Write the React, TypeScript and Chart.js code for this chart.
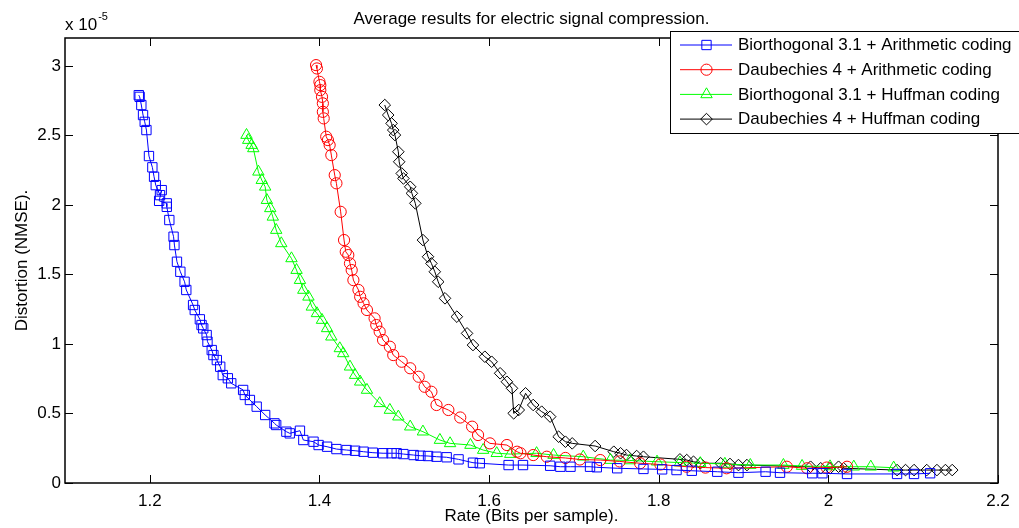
import React, { useEffect, useRef } from 'react';
import { Chart, registerables } from 'chart.js';

Chart.register(...registerables);

const FONT = '"Liberation Sans", Arial, Helvetica, sans-serif';

const chartTitle = 'Average results for electric signal compression.';
const xAxisLabel = 'Rate (Bits per sample).';
const yAxisLabel = 'Distortion (NMSE).';
const yMultiplierBase = 'x 10';
const yMultiplierExp = '-5';

const xMin = 1.1;
const xMax = 2.2;
const yMin = 0;
const yMax = 3.2;
const xTickValues = [1.2, 1.4, 1.6, 1.8, 2.0, 2.2];
const xTickLabels = ['1.2', '1.4', '1.6', '1.8', '2', '2.2'];
const yTickValues = [0, 0.5, 1, 1.5, 2, 2.5, 3];
const yTickLabels = ['0', '0.5', '1', '1.5', '2', '2.5', '3'];

const seriesLabels = [
  'Biorthogonal 3.1 + Arithmetic coding',
  'Daubechies 4 + Arithmetic coding',
  'Biorthogonal 3.1 + Huffman coding',
  'Daubechies 4 + Huffman coding',
];

// Distortion values are in units of 1e-5
const bioArithRate = [1.187, 1.188, 1.190, 1.192, 1.194, 1.196, 1.199, 1.203, 1.205, 1.207,
  1.212, 1.214, 1.211, 1.220, 1.220, 1.223, 1.228, 1.229, 1.232, 1.236,
  1.241, 1.243, 1.251, 1.253, 1.259, 1.261, 1.263, 1.267, 1.268, 1.273,
  1.275, 1.279, 1.283, 1.286, 1.292, 1.296, 1.310, 1.312, 1.318, 1.326,
  1.336, 1.347, 1.349, 1.361, 1.365, 1.377, 1.381, 1.393, 1.399, 1.409,
  1.420, 1.432, 1.442, 1.452, 1.463, 1.475, 1.485, 1.491, 1.499, 1.511,
  1.519, 1.528, 1.538, 1.550, 1.564, 1.581, 1.589, 1.623, 1.640, 1.672,
  1.684, 1.696, 1.719, 1.727, 1.751, 1.782, 1.804, 1.821, 1.839, 1.869,
  1.894, 1.926, 1.943, 1.981, 1.993, 2.022, 2.081, 2.101, 2.120];
const bioArithNmse = [2.789, 2.777, 2.718, 2.646, 2.597, 2.538, 2.351, 2.270, 2.202, 2.142,
  2.070, 2.106, 2.029, 2.011, 1.986, 1.891, 1.771, 1.711, 1.591, 1.519,
  1.447, 1.388, 1.280, 1.244, 1.177, 1.136, 1.112, 1.064, 1.016, 0.956,
  0.920, 0.884, 0.836, 0.776, 0.753, 0.717, 0.669, 0.633, 0.597, 0.549,
  0.489, 0.429, 0.417, 0.369, 0.357, 0.376, 0.309, 0.297, 0.273, 0.261,
  0.244, 0.237, 0.232, 0.225, 0.218, 0.214, 0.214, 0.214, 0.208, 0.201,
  0.196, 0.194, 0.189, 0.185, 0.170, 0.146, 0.142, 0.129, 0.129, 0.124,
  0.117, 0.117, 0.117, 0.113, 0.106, 0.101, 0.098, 0.093, 0.088, 0.081,
  0.074, 0.081, 0.074, 0.070, 0.070, 0.065, 0.065, 0.065, 0.070];

const daubArithRate = [1.396, 1.397, 1.400, 1.401, 1.401, 1.403, 1.404, 1.404, 1.405, 1.408,
  1.410, 1.412, 1.414, 1.418, 1.420, 1.425, 1.429, 1.431, 1.434, 1.436,
  1.438, 1.440, 1.446, 1.448, 1.452, 1.456, 1.465, 1.467, 1.471, 1.475,
  1.483, 1.487, 1.497, 1.507, 1.517, 1.524, 1.532, 1.538, 1.552, 1.566,
  1.580, 1.587, 1.601, 1.621, 1.633, 1.637, 1.652, 1.668, 1.690, 1.707,
  1.731, 1.754, 1.778, 1.802, 1.833, 1.855, 1.880, 1.951, 1.975, 1.998,
  2.022];
const daubArithNmse = [3.005, 2.981, 2.885, 2.861, 2.825, 2.777, 2.730, 2.669, 2.622, 2.490,
  2.466, 2.430, 2.358, 2.214, 2.155, 1.950, 1.747, 1.663, 1.639, 1.579,
  1.531, 1.459, 1.388, 1.339, 1.292, 1.244, 1.184, 1.136, 1.088, 1.028,
  0.980, 0.920, 0.872, 0.825, 0.764, 0.692, 0.656, 0.561, 0.525, 0.471,
  0.405, 0.345, 0.285, 0.273, 0.225, 0.214, 0.201, 0.189, 0.180, 0.169,
  0.165, 0.155, 0.142, 0.133, 0.117, 0.111, 0.106, 0.117, 0.106, 0.111,
  0.117];

const bioHuffRate = [1.314, 1.316, 1.320, 1.322, 1.328, 1.332, 1.336, 1.338, 1.342, 1.345,
  1.349, 1.355, 1.367, 1.373, 1.377, 1.381, 1.387, 1.391, 1.397, 1.403,
  1.409, 1.414, 1.424, 1.428, 1.436, 1.442, 1.448, 1.456, 1.471, 1.483,
  1.493, 1.507, 1.522, 1.542, 1.554, 1.578, 1.593, 1.609, 1.625, 1.656,
  1.676, 1.711, 1.743, 1.766, 1.798, 1.825, 1.849, 1.878, 1.908, 1.947,
  1.969, 2.002, 2.030, 2.050, 2.077];
const bioHuffNmse = [2.502, 2.466, 2.430, 2.406, 2.238, 2.178, 2.130, 2.034, 1.975, 1.914,
  1.819, 1.723, 1.615, 1.531, 1.459, 1.388, 1.339, 1.267, 1.220, 1.172,
  1.112, 1.052, 0.968, 0.932, 0.836, 0.776, 0.728, 0.669, 0.573, 0.525,
  0.477, 0.405, 0.369, 0.309, 0.285, 0.273, 0.237, 0.214, 0.208, 0.214,
  0.201, 0.189, 0.165, 0.162, 0.153, 0.147, 0.142, 0.137, 0.129, 0.129,
  0.122, 0.119, 0.117, 0.117, 0.110];

const daubHuffRate = [1.477, 1.481, 1.485, 1.487, 1.489, 1.493, 1.494, 1.497, 1.499, 1.507,
  1.509, 1.513, 1.522, 1.528, 1.532, 1.536, 1.540, 1.548, 1.562, 1.574,
  1.581, 1.595, 1.603, 1.613, 1.621, 1.627, 1.629, 1.635, 1.643, 1.652,
  1.662, 1.672, 1.682, 1.690, 1.698, 1.725, 1.747, 1.755, 1.762, 1.774,
  1.782, 1.825, 1.833, 1.841, 1.849, 1.873, 1.884, 1.894, 1.904, 1.979,
  1.991, 2.002, 2.012, 2.018, 2.081, 2.091, 2.101, 2.116, 2.128, 2.138,
  2.146];
const daubHuffNmse = [2.718, 2.646, 2.586, 2.538, 2.502, 2.382, 2.310, 2.226, 2.190, 2.130,
  2.083, 2.011, 1.747, 1.627, 1.579, 1.519, 1.447, 1.328, 1.196, 1.076,
  0.992, 0.908, 0.872, 0.789, 0.728, 0.681, 0.501, 0.525, 0.645, 0.561,
  0.513, 0.477, 0.333, 0.297, 0.285, 0.266, 0.225, 0.214, 0.201, 0.194,
  0.189, 0.170, 0.165, 0.153, 0.142, 0.142, 0.137, 0.129, 0.129, 0.117,
  0.106, 0.106, 0.117, 0.106, 0.093, 0.093, 0.093, 0.093, 0.093, 0.093,
  0.093];

const seriesColors = ['#0000ff', '#ff0000', '#00ff00', '#000000'];
const seriesShapes = ['rect', 'circle', 'triangle', 'rectRot'];
const seriesRadii = [6.6, 5.6, 6.6, 5.8];
const seriesRates = [bioArithRate, daubArithRate, bioHuffRate, daubHuffRate];
const seriesNmse = [bioArithNmse, daubArithNmse, bioHuffNmse, daubHuffNmse];

function drawMarker(ctx: CanvasRenderingContext2D, shape: string, x: number, y: number, r: number) {
  ctx.beginPath();
  if (shape === 'rect') {
    const s = r * Math.SQRT1_2;
    ctx.rect(x - s, y - s, 2 * s, 2 * s);
  } else if (shape === 'circle') {
    ctx.arc(x, y, r, 0, Math.PI * 2);
  } else if (shape === 'triangle') {
    ctx.moveTo(x, y - r);
    ctx.lineTo(x + r * Math.sin(2 * Math.PI / 3), y + r * 0.5);
    ctx.lineTo(x - r * Math.sin(2 * Math.PI / 3), y + r * 0.5);
    ctx.closePath();
  } else {
    ctx.moveTo(x - r, y);
    ctx.lineTo(x, y - r);
    ctx.lineTo(x + r, y);
    ctx.lineTo(x, y + r);
    ctx.closePath();
  }
  ctx.stroke();
}

const framePlugin = {
  id: 'matlabFrame',
  beforeDatasetsDraw(chart: any) {
    const { ctx, chartArea: a, scales } = chart;
    const tl = 8;
    ctx.save();
    ctx.strokeStyle = '#000';
    ctx.lineWidth = 1;
    ctx.beginPath();
    for (const v of xTickValues) {
      const px = Math.round(scales.x.getPixelForValue(v)) + 0.5;
      ctx.moveTo(px, a.bottom);
      ctx.lineTo(px, a.bottom - tl);
      ctx.moveTo(px, a.top);
      ctx.lineTo(px, a.top + tl);
    }
    for (const v of yTickValues) {
      const py = Math.round(scales.y.getPixelForValue(v)) + 0.5;
      ctx.moveTo(a.left, py);
      ctx.lineTo(a.left + tl, py);
      ctx.moveTo(a.right, py);
      ctx.lineTo(a.right - tl, py);
    }
    ctx.stroke();
    ctx.lineWidth = 1.5;
    ctx.strokeRect(a.left, a.top, a.right - a.left, a.bottom - a.top);
    ctx.fillStyle = '#000';
    ctx.textAlign = 'left';
    ctx.textBaseline = 'alphabetic';
    ctx.font = `17px ${FONT}`;
    ctx.fillText(yMultiplierBase, a.left, 30);
    const w = ctx.measureText(yMultiplierBase).width;
    ctx.font = `11px ${FONT}`;
    ctx.fillText(yMultiplierExp, a.left + w + 1, 19.5);
    ctx.restore();
  },
};

const legendPlugin = {
  id: 'boxLegend',
  afterDraw(chart: any) {
    const ctx: CanvasRenderingContext2D = chart.ctx;
    const left = 670, top = 31, right = 1030, bottom = 133;
    ctx.save();
    ctx.fillStyle = '#fff';
    ctx.fillRect(left, top, right - left, bottom - top);
    ctx.strokeStyle = '#000';
    ctx.lineWidth = 1;
    ctx.strokeRect(left + 0.5, top + 0.5, right - left, bottom - top);
    seriesLabels.forEach((label, i) => {
      const y = 45 + i * 24.7;
      ctx.strokeStyle = seriesColors[i];
      ctx.lineWidth = 1;
      ctx.beginPath();
      ctx.moveTo(680, y);
      ctx.lineTo(732, y);
      ctx.stroke();
      drawMarker(ctx, seriesShapes[i], 706.5, y, seriesRadii[i]);
      ctx.fillStyle = '#000';
      ctx.font = `17px ${FONT}`;
      ctx.textAlign = 'left';
      ctx.textBaseline = 'middle';
      ctx.fillText(label, 738, y + 0.5);
    });
    ctx.restore();
  },
};

export default function App() {
  const canvasRef = useRef<HTMLCanvasElement | null>(null);

  useEffect(() => {
    document.body.style.margin = '0';
    const canvas = canvasRef.current;
    if (!canvas) return;
    const datasets = seriesLabels.map((label, i) => ({
      label,
      data: seriesRates[i].map((x, j) => ({ x, y: seriesNmse[i][j] })),
      borderColor: seriesColors[i],
      backgroundColor: 'rgba(0,0,0,0)',
      borderWidth: 1,
      pointStyle: seriesShapes[i],
      pointRadius: seriesRadii[i],
      pointBorderWidth: 1,
      pointBorderColor: seriesColors[i],
      pointBackgroundColor: 'rgba(0,0,0,0)',
      tension: 0,
      fill: false,
      showLine: true,
    }));
    const chart = new Chart(canvas, {
      type: 'line',
      data: { datasets },
      plugins: [framePlugin, legendPlugin],
      options: {
        animation: false,
        responsive: false,
        devicePixelRatio: 1,
        layout: { padding: { left: 0, right: 21, top: 0, bottom: 0 } },
        plugins: {
          legend: { display: false },
          tooltip: { enabled: false },
          title: {
            display: true,
            text: chartTitle,
            fullSize: false,
            color: '#000',
            font: { family: FONT, size: 17, weight: 'normal', lineHeight: 1.2 },
            padding: { top: 8.8, bottom: 8.8 },
          },
        },
        scales: {
          x: {
            type: 'linear',
            min: xMin,
            max: xMax,
            afterBuildTicks: (s: any) => { s.ticks = xTickValues.map((v) => ({ value: v })); },
            afterFit: (s: any) => { s.height = 45; },
            grid: { display: false, drawTicks: false },
            border: { display: false },
            ticks: {
              color: '#000',
              font: { family: FONT, size: 17 },
              padding: 8,
              maxRotation: 0,
              autoSkip: false,
              callback: (_v: any, i: number) => xTickLabels[i],
            },
            title: {
              display: true,
              text: xAxisLabel,
              color: '#000',
              font: { family: FONT, size: 17 },
              padding: { top: 0, bottom: 1 },
            },
          },
          y: {
            type: 'linear',
            min: yMin,
            max: yMax,
            afterBuildTicks: (s: any) => { s.ticks = yTickValues.map((v) => ({ value: v })); },
            afterFit: (s: any) => { s.width = 65; },
            grid: { display: false, drawTicks: false },
            border: { display: false },
            ticks: {
              color: '#000',
              font: { family: FONT, size: 17 },
              padding: 4,
              autoSkip: false,
              callback: (_v: any, i: number) => yTickLabels[i],
            },
            title: {
              display: true,
              text: yAxisLabel,
              color: '#000',
              font: { family: FONT, size: 17 },
              padding: { top: 12.2, bottom: 0 },
            },
          },
        },
      } as any,
    });
    return () => chart.destroy();
  }, []);

  return (
    <div style={{ width: 1019, height: 528, background: '#fff' }}>
      <canvas ref={canvasRef} width={1019} height={528} style={{ display: 'block' }} />
    </div>
  );
}
